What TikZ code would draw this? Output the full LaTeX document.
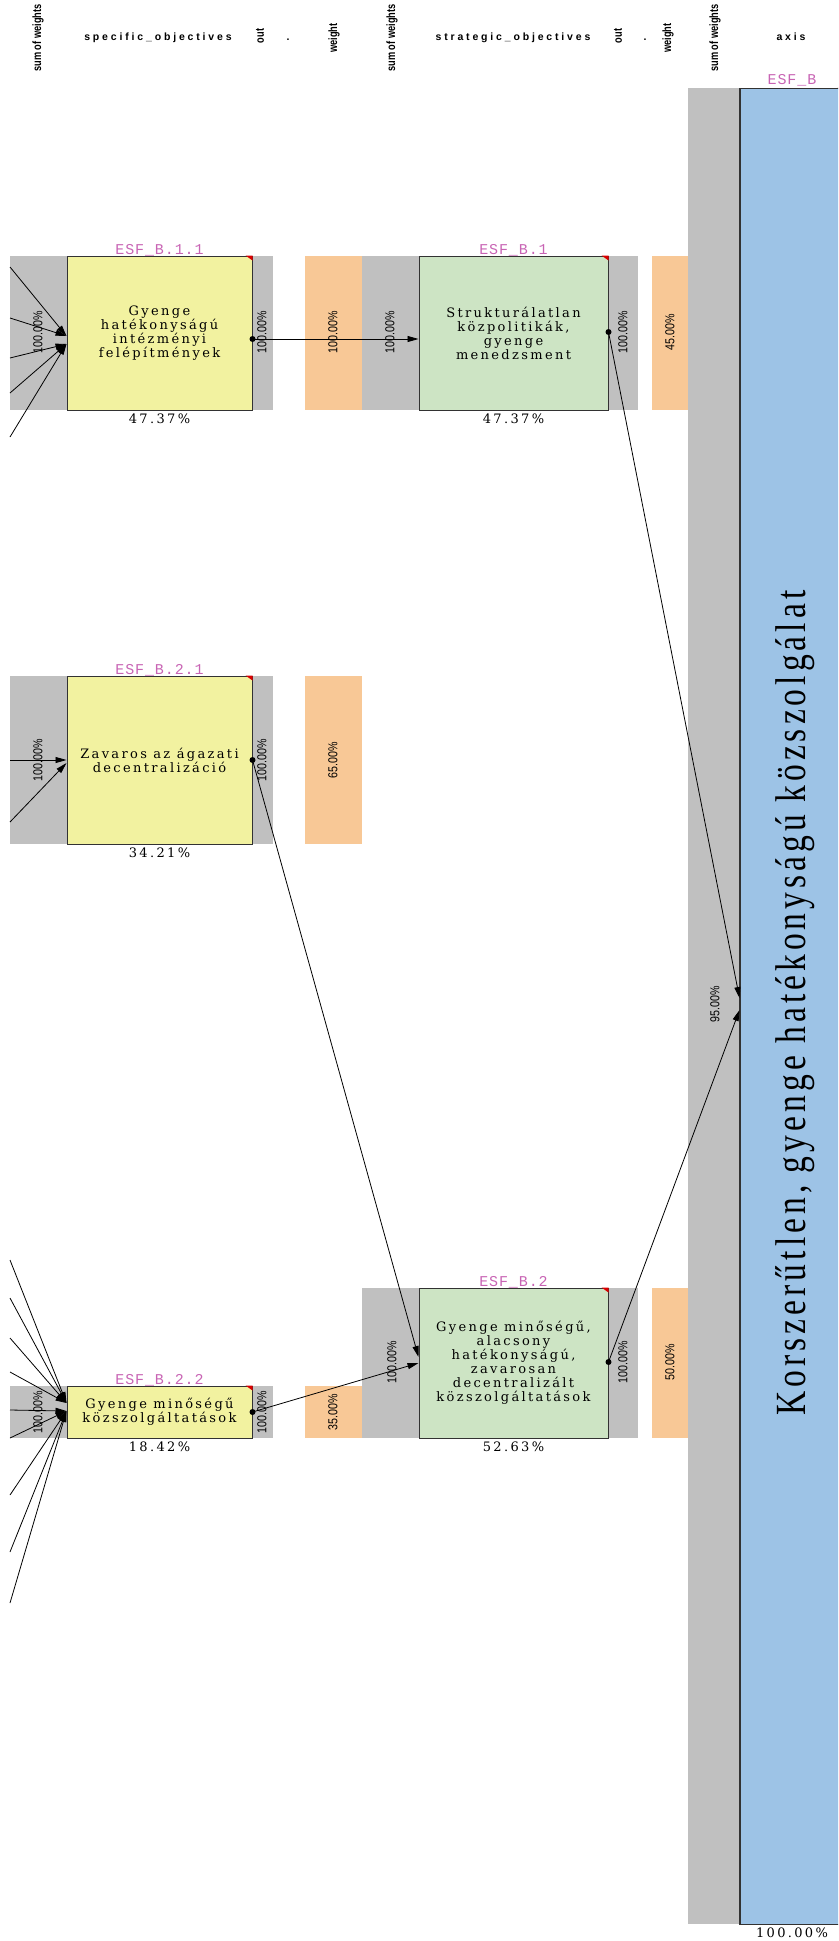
\documentclass[tikz,border=0pt]{standalone}
\usepackage{graphicx}
\usepackage{fontspec}
\setmainfont{DejaVu Serif}
\newfontfamily\boxfont[LetterSpace=18]{DejaVu Serif}
\newfontfamily\hdrfont{Liberation Sans}
\newfontfamily\hdrsp[LetterSpace=27]{Liberation Sans}
\newfontfamily\esffont[LetterSpace=6]{Liberation Mono}
\newfontfamily\axfont[LetterSpace=12]{Liberation Serif}
\usetikzlibrary{arrows.meta}
\definecolor{bargrey}{RGB}{192,192,192}
\definecolor{boxyellow}{RGB}{242,242,160}
\definecolor{boxgreen}{RGB}{205,228,196}
\definecolor{wtorange}{RGB}{248,200,150}
\definecolor{axblue}{RGB}{157,195,230}
\definecolor{esfpink}{RGB}{200,100,180}
\definecolor{edgegrey}{RGB}{50,50,50}
\newcommand{\sxn}[1]{\scalebox{0.82}[1]{#1}}
\newcommand{\shn}[2]{\scalebox{#1}[1]{#2}}
\tikzset{
  objbox/.style={draw=edgegrey, line width=1pt, inner sep=0pt, align=center,
     font=\boxfont\fontsize{13}{14}\selectfont},
  ybox/.style={objbox, fill=boxyellow},
  gbox/.style={objbox, fill=boxgreen},
  pct/.style={rotate=90, inner sep=0pt, font=\hdrfont\fontsize{13}{13}\selectfont},
  esflab/.style={anchor=base, inner sep=0pt, text=esfpink, font=\esffont\fontsize{15}{15}\selectfont},
  sharelab/.style={anchor=base, inner sep=0pt, font=\boxfont\fontsize{13}{13}\selectfont},
  hv/.style={rotate=90, inner sep=0pt, font=\hdrfont\bfseries\fontsize{12}{12}\selectfont},
  hh/.style={anchor=base, inner sep=0pt, font=\hdrsp\bfseries\fontsize{10.5}{10.5}\selectfont},
  conn/.style={draw=black, line width=0.8pt, -{Triangle[length=11pt,width=6pt]}},
  corner/.style={fill=red!85!black},
}
\begin{document}
\begin{tikzpicture}[x=1pt,y=-1pt]
\useasboundingbox (0,0) rectangle (838,1941);
\begin{scope}
\clip (0,0) rectangle (838,1941);

% ---------- headers ----------
\node[hv] (h1) at (38,38) {\shn{0.77}{sum of weights}};
\node[hh] (h2) at (158,40) {specific\_objectives};
\node[hv] (h3) at (260,36) {\shn{0.77}{out}};
\node[hh] (h4) at (288,40) {.};
\node[hv] (h5) at (334,38) {\shn{0.77}{weight}};
\node[hv] (h6) at (392,38) {\shn{0.77}{sum of weights}};
\node[hh] (h7) at (513,40) {strategic\_objectives};
\node[hv] (h8) at (618,36) {\shn{0.77}{out}};
\node[hh] (h9) at (645,40) {.};
\node[hv] (h10) at (668,38) {\shn{0.77}{weight}};
\node[hv] (h11) at (715,38) {\shn{0.77}{sum of weights}};
\node[hh] (h12) at (791,40) {axis};

% ---------- background bars ----------
\fill[bargrey] (10,256) rectangle (273,410);
\fill[wtorange] (305,256) rectangle (362,410);
\fill[bargrey] (362,256) rectangle (638,410);
\fill[wtorange] (652,256) rectangle (688,410);

\fill[bargrey] (10,676) rectangle (273,844);
\fill[wtorange] (305,676) rectangle (362,844);

\fill[bargrey] (10,1386) rectangle (273,1438);
\fill[wtorange] (305,1386) rectangle (362,1438);
\fill[bargrey] (362,1288) rectangle (638,1438);
\fill[wtorange] (652,1288) rectangle (688,1438);

\fill[bargrey] (688,88) rectangle (740,1924);

% ---------- axis box ----------
\node[draw=edgegrey, line width=1pt, fill=axblue, inner sep=0pt,
      minimum width=104pt, minimum height=1836pt] (ax) at (792,1006) {};
\draw[edgegrey, line width=2pt] (ax.south west) -- (ax.north west);
\fill[corner] (ax.north east) -- ++(-7,0) -- ++(7,5) -- cycle;
\node[esflab] (axl) at (792,84) {ESF\_B};
\node[sharelab] (axs) at (792,1937) {100.00\%};
\node[rotate=90, anchor=base, inner sep=0pt,
      font=\axfont\fontsize{43}{43}\selectfont] (axt) at (805,1003)
      {\shn{0.78}{Korszerűtlen, gyenge hatékonyságú közszolgálat}};

% ---------- objective boxes ----------
\node[ybox, minimum width=185pt, minimum height=154pt] (b11) at (159.5,333)
  {Gyenge\\hatékonyságú\\intézményi\\felépítmények};
\node[gbox, minimum width=189pt, minimum height=154pt] (b1) at (513.5,333)
  {Strukturálatlan\\közpolitikák,\\gyenge\\menedzsment};
\node[ybox, minimum width=185pt, minimum height=168pt] (b21) at (159.5,760)
  {Zavaros az ágazati\\decentralizáció};
\node[ybox, minimum width=185pt, minimum height=52pt] (b22) at (159.5,1412)
  {Gyenge minőségű\\közszolgáltatások};
\node[gbox, minimum width=189pt, minimum height=150pt] (b2) at (513.5,1363)
  {Gyenge minőségű,\\alacsony\\hatékonyságú,\\zavarosan\\decentralizált\\közszolgáltatások};

\foreach \b in {b11,b1,b21,b22,b2}{
  \fill[corner] (\b.north east) -- ++(-7,0) -- ++(7,5) -- cycle;
}

\node[esflab] (l11) at (159.5,254) {ESF\_B.1.1};
\node[esflab] (l1) at (513.5,254) {ESF\_B.1};
\node[esflab] (l21) at (159.5,674) {ESF\_B.2.1};
\node[esflab] (l22) at (159.5,1384) {ESF\_B.2.2};
\node[esflab] (l2) at (513.5,1286) {ESF\_B.2};

\node[sharelab] (s11) at (159.5,423) {47.37\%};
\node[sharelab] (s1) at (513.5,423) {47.37\%};
\node[sharelab] (s21) at (159.5,857) {34.21\%};
\node[sharelab] (s22) at (159.5,1451) {18.42\%};
\node[sharelab] (s2) at (513.5,1451) {52.63\%};

% ---------- percentage labels ----------
\node[pct] (p11a) at (38,332) {\sxn{100.00\%}};
\node[pct] (p11b) at (262,332) {\sxn{100.00\%}};
\node[pct] (p11c) at (333,332) {\sxn{100.00\%}};
\node[pct] (p1a) at (390,332) {\sxn{100.00\%}};
\node[pct] (p1b) at (623,332) {\sxn{100.00\%}};
\node[pct] (p1c) at (670,332) {\sxn{45.00\%}};

\node[pct] (p21a) at (38,760) {\sxn{100.00\%}};
\node[pct] (p21b) at (262,760) {\sxn{100.00\%}};
\node[pct] (p21c) at (333,760) {\sxn{65.00\%}};

\node[pct] (p22a) at (38,1412) {\sxn{100.00\%}};
\node[pct] (p22b) at (262,1412) {\sxn{100.00\%}};
\node[pct] (p22c) at (333,1412) {\sxn{35.00\%}};
\node[pct] (p2a) at (392,1362) {\sxn{100.00\%}};
\node[pct] (p2b) at (623,1362) {\sxn{100.00\%}};
\node[pct] (p2c) at (670,1362) {\sxn{50.00\%}};

\node[pct] (pax) at (715,1004) {\sxn{95.00\%}};

% ---------- connectors ----------
\coordinate (o11) at (b11.east |- 0,339);
\coordinate (o1) at (b1.east |- 0,332);
\coordinate (o21) at (b21.east |- 0,760);
\coordinate (o22) at (b22.east |- 0,1412);
\coordinate (o2) at (b2.east |- 0,1362);
\coordinate (i1) at (ax.west |- 0,998);
\coordinate (i2) at (ax.west |- 0,1010);
\coordinate (i21) at (b2.west |- 0,1357);
\coordinate (i22) at (b2.west |- 0,1363);

\draw[conn] (o11) -- (b1.west |- o11);
\draw[conn] (o1) -- (i1);
\draw[conn] (o21) -- (i21);
\draw[conn] (o22) -- (i22);
\draw[conn] (o2) -- (i2);
\foreach \o in {o11,o1,o21,o22,o2}{\fill (\o) circle (3);}

% incoming lines from the left
\coordinate (t11a) at (b11.west |- 0,336);
\coordinate (t11b) at (b11.west |- 0,344);
\foreach \y in {267,318}{\draw[conn] (10,\y) -- (t11a);}
\foreach \y in {358,393,437}{\draw[conn] (10,\y) -- (t11b);}

\coordinate (t21a) at (b21.west |- 0,760);
\coordinate (t21b) at (b21.west |- 0,763);
\draw[conn] (10,760) -- (t21a);
\draw[conn] (10,822) -- (t21b);

\coordinate (t22a) at (b22.west |- 0,1403);
\coordinate (t22b) at (b22.west |- 0,1411);
\foreach \y in {1260,1298,1338,1372}{\draw[conn] (10,\y) -- (t22a);}
\foreach \y in {1410,1438,1495,1552,1603}{\draw[conn] (10,\y) -- (t22b);}
\end{scope}
\end{tikzpicture}
\end{document}
